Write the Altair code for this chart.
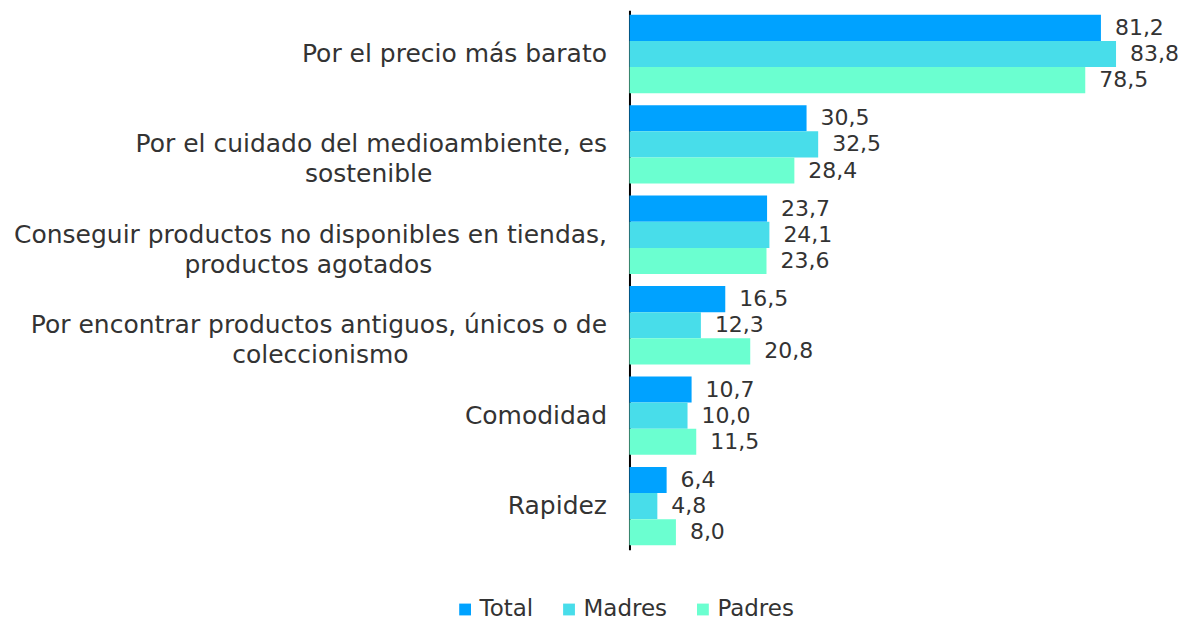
import altair as alt
import pandas as pd

categories = [
    "Por el precio más barato",
    "Por el cuidado del medioambiente, es sostenible",
    "Conseguir productos no disponibles en tiendas, productos agotados",
    "Por encontrar productos antiguos, únicos o de coleccionismo",
    "Comodidad",
    "Rapidez",
]
label_lines = [
    ["Por el precio más barato"],
    ["Por el cuidado del medioambiente, es", "sostenible"],
    ["Conseguir productos no disponibles en tiendas,", "productos agotados"],
    ["Por encontrar productos antiguos, únicos o de", "coleccionismo"],
    ["Comodidad"],
    ["Rapidez"],
]
series = ["Total", "Madres", "Padres"]
total = [81.2, 30.5, 23.7, 16.5, 10.7, 6.4]
madres = [83.8, 32.5, 24.1, 12.3, 10.0, 4.8]
padres = [78.5, 28.4, 23.6, 20.8, 11.5, 8.0]
colors = ["#00A2FF", "#48DDEA", "#6BFFD0"]

rows = []
for s, vals in zip(series, [total, madres, padres]):
    for c, v in zip(categories, vals):
        rows.append({"cat": c, "serie": s, "value": v})
df = pd.DataFrame(rows)

# approximate DejaVu Sans advance widths (em) to center wrapped lines
W = {" ": 0.318, ",": 0.318, "a": 0.613, "á": 0.613, "b": 0.635, "c": 0.550,
     "d": 0.635, "e": 0.615, "f": 0.352, "g": 0.635, "h": 0.634, "i": 0.278,
     "l": 0.278, "m": 0.974, "n": 0.634, "o": 0.612, "p": 0.635, "r": 0.411,
     "s": 0.521, "t": 0.392, "u": 0.634, "ú": 0.634, "v": 0.592, "y": 0.592,
     "C": 0.698, "P": 0.603, "R": 0.695}


def width(s):
    return sum(W.get(ch, 0.6) for ch in s)


def centered(lines):
    if len(lines) < 2:
        return lines
    w0 = max(width(l) for l in lines)
    out = []
    for l in lines:
        n = int(round((w0 - width(l)) / 2 / 0.318))
        out.append(l + "\u00a0" * n + "\u200b" if n else l)
    return out


expr = ""
for c, lines in zip(categories, label_lines):
    arr = "[" + ",".join("'" + l + "'" for l in centered(lines)) + "]"
    expr += f"datum.label == '{c}' ? {arr} : "
expr += "datum.label"

FONT = "DejaVu Sans"
TXT = "#333333"

y_enc = alt.Y(
    "cat:N",
    sort=categories,
    title=None,
    scale=alt.Scale(paddingInner=0.133, paddingOuter=0.05),
    axis=alt.Axis(
        labelExpr=expr,
        labelFont=FONT,
        labelFontSize=25,
        labelColor=TXT,
        labelLineHeight=30,
        labelPadding=23,
        labelLimit=800,
        ticks=False,
        domainColor="#000000",
        domainWidth=2,
    ),
)

base = alt.Chart(df).encode(
    y=y_enc,
    yOffset=alt.YOffset("serie:N", sort=series),
    x=alt.X("value:Q", scale=alt.Scale(domain=[0, 90]), axis=None),
)

bars = base.mark_bar().encode(
    color=alt.Color(
        "serie:N",
        sort=series,
        scale=alt.Scale(domain=series, range=colors),
        legend=alt.Legend(
            title=None,
            orient="none",
            direction="horizontal",
            legendX=-176,
            legendY=588,
            symbolType="square",
            symbolSize=140,
            labelFont=FONT,
            labelFontSize=23,
            labelColor=TXT,
            labelOffset=3,
            columnPadding=24,
            symbolStrokeWidth=0,
        ),
    )
)

text = base.mark_text(
    align="left", baseline="middle", dx=14, font=FONT, fontSize=22, color=TXT
).transform_calculate(
    lbl="replace(format(datum.value, '.1f'), '.', ',')"
).encode(text="lbl:N")

chart = (
    (bars + text)
    .properties(
        width=523,
        height=540,
        background="white",
        padding={"left": 5, "top": 2, "right": 5, "bottom": 0},
    )
    .configure_view(stroke="transparent", strokeWidth=0)
)

chart.save("out.html", embed_options={"renderer": "svg", "actions": False})
